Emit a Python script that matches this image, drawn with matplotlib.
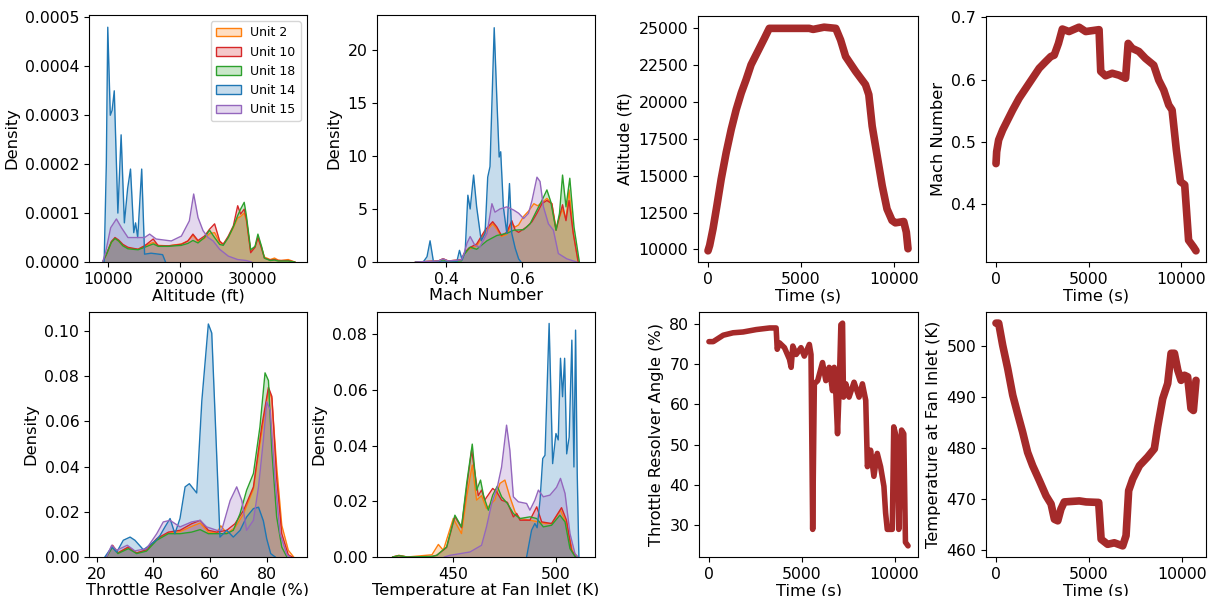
import numpy as np
import matplotlib
matplotlib.use("Agg")
import matplotlib.pyplot as plt
from matplotlib.patches import Patch
from matplotlib.ticker import FormatStrFormatter

plt.rcParams['font.family'] = ['DejaVu Sans']
plt.rcParams['font.size'] = 11
plt.rcParams['xtick.labelsize'] = 11.3
plt.rcParams['ytick.labelsize'] = 11.3
plt.rcParams['axes.labelsize'] = 11.7

#=============================================================================
# DATA : density curves (per unit)
#=============================================================================

units = ['Unit 2', 'Unit 10', 'Unit 18', 'Unit 14', 'Unit 15']
unit_colors = ['#ff7f0e', '#d62728', '#2ca02c', '#1f77b4', '#9467bd']

# --- Altitude (ft) ---
alt_x_main = [9300, 9800, 10500, 11000, 11500, 12100, 12800, 14200, 15100, 16300, 17000, 18400,
              20200, 21100, 21800, 22500, 23400, 24100, 24800, 25500, 26000, 26700, 27400, 28000,
              28400, 28900, 29200, 29800, 30400, 30800, 31300, 31700, 32500, 33100, 33600, 34000,
              35000, 35900]
alt_u2 = [0, 1.5, 4.0, 4.8, 4.3, 3.3, 2.8, 2.6, 3.3, 4.0, 3.4, 3.3, 3.7, 4.3, 5.5, 4.2, 4.8, 5.8,
          6.0, 4.0, 3.7, 5.0, 7.0, 9.0, 9.3, 10.0, 8.5, 2.2, 3.0, 5.0, 3.0, 1.0, 0.5, 0.8, 0.4, 0.3,
          0.5, 0]
alt_u10 = [0, 1.5, 4.2, 5.0, 4.5, 3.6, 3.0, 2.6, 3.3, 4.7, 3.3, 3.3, 3.6, 4.3, 5.7, 4.4, 5.3, 6.7,
           7.8, 4.3, 3.6, 5.3, 7.4, 11.5, 9.8, 10.8, 8.8, 1.9, 3.0, 5.0, 2.8, 0.8, 0.4, 0.5, 0.3,
           0.3, 0.3, 0]
alt_u18 = [0, 1.5, 4.0, 4.8, 4.3, 3.3, 2.7, 2.5, 3.0, 3.7, 3.2, 3.2, 3.4, 3.8, 4.4, 3.9, 5.0, 6.5,
           5.0, 3.6, 3.4, 5.0, 7.2, 9.5, 10.8, 12.2, 9.5, 2.5, 3.2, 5.7, 3.2, 0.8, 0.3, 0.4, 0.2,
           0.2, 0.2, 0]
alt_x_u14 = [9500, 9800, 10000, 10350, 10600, 10900, 11400, 11850, 12300, 12750, 13150, 13600,
             13850, 14150, 14700, 15100, 16000, 17600, 18000]
alt_u14 = [0, 20, 48, 30, 31, 35, 10, 26, 8, 15, 19, 6, 8, 5, 19, 1.6, 1.8, 1.5, 0]
alt_x_u15 = [9300, 9700, 10400, 11200, 11900, 12800, 15100, 15800, 16700, 18800, 20200, 21300,
             21900, 22500, 23200, 23900, 24600, 25500, 26700, 28000, 29200, 29900]
alt_u15 = [0, 2.0, 7.0, 8.8, 7.0, 5.0, 5.0, 5.7, 4.7, 4.3, 5.3, 8.4, 13.9, 9.1, 6.4, 5.0, 4.3,
           2.6, 1.2, 0.5, 0.3, 0]

# --- Mach Number ---
mach_x_u2 = [0.320, 0.380, 0.392, 0.405, 0.440, 0.447, 0.459, 0.480, 0.502, 0.522, 0.533, 0.545,
             0.559, 0.572, 0.581, 0.590, 0.603, 0.616, 0.630, 0.640, 0.651, 0.664, 0.677, 0.688,
             0.697, 0.705, 0.714, 0.722, 0.733, 0.746]
mach_u2 = [0, 0.1, 0.3, 0.1, 0.2, 0.7, 1.2, 1.5, 2.8, 3.6, 3.1, 2.4, 2.6, 3.6, 3.3, 3.5, 4.3, 4.8,
           5.5, 5.3, 5.6, 6.0, 5.5, 3.1, 4.2, 5.0, 4.0, 6.8, 2.8, 0]
mach_x_u10 = [0.320, 0.380, 0.392, 0.405, 0.440, 0.447, 0.459, 0.480, 0.502, 0.522, 0.533, 0.545,
              0.559, 0.572, 0.581, 0.590, 0.611, 0.625, 0.638, 0.651, 0.664, 0.677, 0.688, 0.697,
              0.705, 0.714, 0.722, 0.733, 0.746]
mach_u10 = [0, 0.1, 0.3, 0.1, 0.2, 0.8, 1.3, 1.7, 3.0, 3.8, 3.3, 2.5, 2.8, 3.9, 3.0, 2.8, 3.3,
            3.8, 4.6, 5.5, 5.8, 5.5, 3.0, 4.3, 5.4, 3.9, 5.8, 2.7, 0]
mach_x_u18 = [0.320, 0.380, 0.392, 0.405, 0.440, 0.447, 0.463, 0.480, 0.507, 0.533, 0.559, 0.577,
              0.603, 0.620, 0.638, 0.651, 0.664, 0.674, 0.688, 0.697, 0.705, 0.714, 0.724, 0.735,
              0.749]
mach_u18 = [0, 0.05, 0.2, 0.05, 0.1, 0.7, 1.4, 1.2, 2.0, 2.5, 2.7, 3.0, 3.05, 3.6, 4.9, 5.8, 6.8,
            5.7, 3.0, 4.6, 8.2, 5.2, 7.9, 3.3, 0]
mach_x_u14 = [0.340, 0.350, 0.358, 0.367, 0.428, 0.435, 0.442, 0.450, 0.457, 0.463, 0.472, 0.480,
              0.492, 0.502, 0.509, 0.515, 0.526, 0.533, 0.539, 0.543, 0.550, 0.559, 0.566, 0.572,
              0.581, 0.590, 0.596]
mach_u14 = [0, 0.5, 2.0, 0, 0, 1.1, 0.2, 1.0, 6.3, 5.0, 8.2, 5.2, 2.0, 2.7, 8.0, 9.0, 22.1, 15.3,
            9.9, 10.4, 5.2, 2.7, 7.4, 2.7, 1.3, 0.3, 0]
mach_x_u15 = [0.320, 0.380, 0.392, 0.405, 0.440, 0.447, 0.455, 0.463, 0.475, 0.488, 0.507, 0.520,
              0.528, 0.541, 0.559, 0.577, 0.590, 0.603, 0.616, 0.625, 0.638, 0.646, 0.655, 0.668,
              0.681, 0.694, 0.716, 0.742]
mach_u15 = [0, 0.1, 0.3, 0.1, 0.2, 0.8, 1.8, 2.4, 1.6, 1.4, 2.7, 5.5, 4.7, 5.0, 5.2, 4.9, 4.6,
            4.1, 4.6, 5.8, 8.0, 7.6, 5.2, 3.6, 3.0, 0.8, 0.3, 0]

# --- Throttle Resolver Angle (%) ---
tra_x_u2 = [23.5, 25.6, 27.5, 31.2, 34.1, 37.6, 41.2, 45.3, 49.4, 53.5, 56.5, 59.4, 62.4, 63.8,
            65.9, 68.8, 71.8, 75.3, 78.2, 80.6, 81.8, 83.5, 85.3, 87.6, 89.5]
tra_u2 = [0, 0.005, 0.0018, 0.0044, 0.0018, 0.003, 0.0078, 0.0105, 0.0112, 0.0135, 0.015, 0.011,
          0.0105, 0.0138, 0.0105, 0.013, 0.019, 0.030, 0.055, 0.074, 0.070, 0.040, 0.014, 0.003, 0]
tra_x_u10 = [23.5, 25.6, 27.5, 31.2, 34.1, 37.6, 41.2, 45.3, 49.4, 53.5, 56.5, 59.4, 62.4, 65.9,
             68.8, 71.8, 75.3, 78.2, 80.6, 81.8, 83.5, 85.3, 87.6, 89.0]
tra_u10 = [0, 0.0052, 0.0018, 0.0044, 0.0018, 0.0032, 0.0081, 0.011, 0.0118, 0.0147, 0.0162,
           0.0118, 0.011, 0.0118, 0.0147, 0.0206, 0.031, 0.0575, 0.075, 0.071, 0.035, 0.0103,
           0.001, 0]
tra_x_u18 = [23.5, 25.6, 27.5, 31.2, 34.1, 37.6, 41.2, 45.3, 49.4, 53.5, 56.5, 59.4, 62.4, 65.9,
             68.2, 70.6, 72.9, 75.3, 77.6, 79.4, 80.6, 81.8, 83.5, 85.3, 87.1]
tra_u18 = [0, 0.0044, 0.0015, 0.0037, 0.0015, 0.0026, 0.0074, 0.0103, 0.0103, 0.011, 0.0121,
           0.0103, 0.0103, 0.0103, 0.0118, 0.0192, 0.0295, 0.0369, 0.0575, 0.0814, 0.078, 0.047,
           0.0177, 0.0044, 0]
tra_x_u14 = [22.9, 25.3, 27.1, 29.4, 31.8, 33.5, 36.5, 39.4, 40.9, 42.4, 44.1, 45.9, 47.6, 49.4,
             51.2, 52.7, 55.3, 57.1, 59.4, 60.6, 61.8, 63.5, 65.9, 68.2, 70.6, 72.9, 75.3, 77.1,
             78.8, 80.0, 81.4, 83.0]
tra_u14 = [0, 0.0044, 0.0022, 0.0074, 0.0088, 0.0074, 0.0032, 0.0059, 0.0074, 0.0096, 0.0133,
           0.017, 0.0103, 0.017, 0.031, 0.0324, 0.0283, 0.069, 0.103, 0.099, 0.062, 0.0088,
           0.0118, 0.0088, 0.0118, 0.0177, 0.0214, 0.022, 0.016, 0.008, 0.0015, 0]
tra_x_u15 = [23.5, 25.3, 27.1, 30.8, 33.5, 37.6, 41.2, 43.5, 45.9, 49.4, 53.5, 56.5, 58.8, 62.4,
             64.1, 67.1, 69.4, 71.2, 72.9, 75.3, 77.1, 78.8, 80.0, 81.2, 82.9, 84.7, 87.1, 88.2]
tra_u15 = [0, 0.0052, 0.003, 0.0052, 0.0027, 0.0037, 0.0103, 0.0155, 0.0162, 0.0133, 0.0155,
           0.0162, 0.0133, 0.0118, 0.0118, 0.025, 0.031, 0.025, 0.0118, 0.0162, 0.031, 0.0516,
           0.0686, 0.065, 0.035, 0.0103, 0.001, 0]

# --- Temperature at Fan Inlet (K) ---
tfi_x_u2 = [421, 424, 428, 440, 443.1, 445.5, 450.3, 454.3, 456.8, 459.5, 461.6, 464.0, 466.4,
            470.4, 472.9, 475.3, 477.7, 480.2, 482.6, 487.4, 491.5, 494.7, 497.9, 502.2, 505.1,
            508.0, 510.7]
tfi_u2 = [0, 0.0006, 0, 0.0008, 0.0045, 0.0024, 0.0138, 0.0084, 0.0216, 0.033, 0.0204, 0.022,
          0.0174, 0.0204, 0.0264, 0.0276, 0.0216, 0.0162, 0.0138, 0.0132, 0.0126, 0.012, 0.012,
          0.0168, 0.012, 0.002, 0]
tfi_x_u10 = [421, 424, 428, 440, 442.3, 447.1, 451.1, 454.3, 456.8, 459.2, 462.4, 464.0, 465.6,
             469.4, 471.3, 473.7, 476.5, 479.4, 481.0, 482.6, 487.4, 490.7, 493.1, 497.9, 502.7,
             505.1, 507.5, 509.7]
tfi_u10 = [0, 0.0005, 0, 0.0002, 0.0006, 0.0034, 0.0145, 0.0105, 0.025, 0.0383, 0.022, 0.024,
           0.0205, 0.0246, 0.0234, 0.0204, 0.0196, 0.0144, 0.0156, 0.0132, 0.0132, 0.018, 0.0126,
           0.012, 0.0177, 0.0132, 0.0025, 0]
tfi_x_u18 = [421, 424, 428, 440, 442.3, 447.1, 451.1, 454.3, 456.8, 459.5, 461.6, 463.5, 465.1,
             467.3, 469.4, 471.6, 473.7, 476.5, 479.4, 482.6, 487.4, 490.7, 493.9, 497.9, 501.9,
             504.4, 506.8, 509.2, 510.0]
tfi_u18 = [0, 0.0005, 0, 0.0002, 0.0006, 0.0036, 0.015, 0.0108, 0.0264, 0.0405, 0.024, 0.0276,
           0.0216, 0.0168, 0.0222, 0.0254, 0.0216, 0.0192, 0.0156, 0.0138, 0.0144, 0.0138, 0.0108,
           0.0114, 0.015, 0.0126, 0.003, 0.0002, 0]
tfi_x_u14 = [485.8, 488.2, 489.8, 490.9, 492.3, 493.6, 494.7, 496.7, 498.4, 500.0, 501.1, 502.2,
             503.2, 504.2, 505.2, 506.4, 507.7, 508.7, 509.5, 510.3, 511.1]
tfi_u14 = [0, 0.0096, 0.012, 0.0105, 0.0204, 0.0353, 0.0365, 0.0838, 0.0335, 0.0443, 0.042,
           0.0713, 0.0575, 0.0713, 0.037, 0.043, 0.0778, 0.0323, 0.0814, 0.030, 0]
tfi_x_u15 = [446.0, 448.7, 453.6, 458.4, 464.0, 466.4, 468.9, 471.6, 473.7, 476.1, 477.7, 479.4,
             481.8, 485.8, 487.4, 489.8, 491.5, 493.9, 497.1, 500.3, 502.2, 504.4, 506.8, 509.2,
             510.5]
tfi_u15 = [0, 0.0006, 0.0012, 0.0018, 0.0042, 0.0108, 0.0192, 0.025, 0.0323, 0.0473, 0.0383,
           0.0216, 0.0198, 0.0192, 0.0168, 0.0204, 0.024, 0.0216, 0.0222, 0.025, 0.0282, 0.0228,
           0.0084, 0.0012, 0]

# =============================================================================
# DATA : flight profile of one unit versus time (s)
# =============================================================================

alt_t = [0, 90, 270, 480, 710, 980, 1250, 1520, 1790, 2050, 2320, 2680, 3040, 3300, 5450, 5660,
         6250, 6880, 7140, 7410, 7950, 8480, 8660, 8840, 9110, 9380, 9640, 9910, 10090, 10540,
         10680, 10770]
alt_v = [9900, 10270, 11390, 12970, 14770, 16570, 18140, 19490, 20610, 21510, 22530, 23430,
         24330, 25000, 25000, 24930, 25080, 25000, 24210, 23090, 22080, 21180, 20500, 18370,
         16340, 14320, 12740, 11960, 11800, 11890, 11170, 10040]

mach_t = [0, 36, 143, 360, 630, 900, 1250, 1610, 1970, 2330, 2690, 2960, 3140, 3370, 3580, 3940,
          4480, 4840, 5560, 5650, 5910, 6270, 6630, 6990, 7130, 7350, 7710, 8060, 8510, 8780,
          9050, 9320, 9500, 9730, 9950, 10180, 10390, 10660, 10790]
mach_v = [0.465, 0.484, 0.503, 0.519, 0.535, 0.551, 0.570, 0.586, 0.602, 0.618, 0.629, 0.637,
          0.639, 0.658, 0.681, 0.677, 0.684, 0.677, 0.680, 0.613, 0.606, 0.610, 0.607, 0.602,
          0.658, 0.650, 0.645, 0.634, 0.623, 0.599, 0.583, 0.559, 0.551, 0.487, 0.436, 0.431,
          0.342, 0.331, 0.325]

tra_t = [0, 230, 770, 1300, 1840, 2550, 3270, 3620, 3680, 3800, 4070, 4340, 4430, 4520, 4700,
         4960, 5140, 5410, 5500, 5590, 5680, 5860, 6120, 6300, 6480, 6660, 6750, 6840, 6930, 7020,
         7110, 7200, 7250, 7380, 7550, 7820, 8090, 8270, 8450, 8540, 8710, 8890, 9070, 9250, 9430,
         9520, 9610, 9880, 9960, 10140, 10230, 10380, 10500, 10590, 10730]
tra_v = [75.6, 75.6, 77.2, 77.8, 78.0, 78.6, 79.0, 79.0, 73.7, 75.3, 74.1, 71.2, 69.2, 74.5,
         72.4, 74.1, 72.0, 74.9, 72.4, 28.9, 65.1, 65.9, 70.4, 65.9, 69.2, 63.4, 69.2, 62.6, 52.7,
         64.2, 79.8, 80.2, 61.8, 65.1, 61.8, 65.5, 61.8, 65.1, 61.0, 44.5, 48.6, 42.1, 47.8, 44.5,
         39.6, 33.0, 28.9, 28.9, 54.4, 51.1, 28.9, 53.6, 52.7, 25.7, 24.8]

tfi_t = [0, 143, 358, 630, 900, 1160, 1430, 1700, 1970, 2330, 2690, 2960, 3140, 3320, 3490, 3670,
         4480, 4840, 5520, 5650, 6000, 6360, 6810, 6990, 7130, 7350, 7710, 8150, 8510, 8690, 8960,
         9230, 9410, 9590, 9770, 9950, 10130, 10300, 10480, 10610, 10750]
tfi_v = [504.4, 504.4, 500.1, 495.5, 490.3, 486.7, 483.1, 479.1, 476.5, 473.6, 470.6, 469.0,
         466.0, 465.7, 468.0, 469.4, 469.6, 469.4, 469.3, 462.1, 461.1, 461.4, 460.8, 462.8, 471.6,
         473.9, 476.5, 478.2, 479.8, 484.1, 489.6, 492.6, 498.5, 498.5, 495.2, 493.2, 494.2, 493.9,
         487.7, 487.3, 493.2]

#=============================================================================
# PLOT
#=============================================================================

fig = plt.figure(figsize=(12.09, 5.96), dpi=100)
W, H = 1209., 596.


def add_ax(left, top, right, bottom):
    return fig.add_axes([left / W, 1 - bottom / H, (right - left) / W, (bottom - top) / H])


ax1 = add_ax(89, 15, 307, 262)
ax2 = add_ax(377, 15, 595, 262)
ax3 = add_ax(698, 16, 918, 262)
ax4 = add_ax(986, 16, 1206, 262)
ax5 = add_ax(89, 312, 307, 557)
ax6 = add_ax(377, 312, 595, 557)
ax7 = add_ax(699, 312, 918, 557)
ax8 = add_ax(986, 312, 1206, 557)


def density(ax, curves):
    for (x, y), c in zip(curves, unit_colors):
        ax.fill_between(x, y, 0, color=c, alpha=0.25, lw=0)
        ax.plot(x, y, color=c, lw=1)
    ax.set_ylabel('Density')


density(ax1, [(alt_x_main, np.array(alt_u2) * 1e-5), (alt_x_main, np.array(alt_u10) * 1e-5),
              (alt_x_main, np.array(alt_u18) * 1e-5), (alt_x_u14, np.array(alt_u14) * 1e-5),
              (alt_x_u15, np.array(alt_u15) * 1e-5)])
ax1.set_xlim(7400, 37600)
ax1.set_ylim(0, 0.000505)
ax1.set_xticks([10000, 20000, 30000])
ax1.set_yticks([0, 0.0001, 0.0002, 0.0003, 0.0004, 0.0005])
ax1.yaxis.set_major_formatter(FormatStrFormatter('%.4f'))
ax1.set_xlabel('Altitude (ft)', labelpad=1)
handles = [Patch(facecolor=matplotlib.colors.to_rgba(c, 0.25), edgecolor=c, lw=1)
           for c in unit_colors]
ax1.legend(handles, units, loc='upper right', fontsize=9)

density(ax2, [(mach_x_u2, mach_u2), (mach_x_u10, mach_u10), (mach_x_u18, mach_u18),
              (mach_x_u14, mach_u14), (mach_x_u15, mach_u15)])
ax2.set_xlim(0.219, 0.790)
ax2.set_ylim(0, 23.3)
ax2.set_xticks([0.4, 0.6])
ax2.set_yticks([0, 5, 10, 15, 20])
ax2.set_xlabel('Mach Number', labelpad=1)

density(ax5, [(tra_x_u2, tra_u2), (tra_x_u10, tra_u10), (tra_x_u18, tra_u18),
              (tra_x_u14, tra_u14), (tra_x_u15, tra_u15)])
ax5.set_xlim(17.3, 94.2)
ax5.set_ylim(0, 0.1083)
ax5.set_xticks([20, 40, 60, 80])
ax5.set_yticks([0, 0.02, 0.04, 0.06, 0.08, 0.10])
ax5.yaxis.set_major_formatter(FormatStrFormatter('%.2f'))
ax5.set_xlabel('Throttle Resolver Angle (%)', labelpad=1)

density(ax6, [(tfi_x_u2, tfi_u2), (tfi_x_u10, tfi_u10), (tfi_x_u18, tfi_u18),
              (tfi_x_u14, tfi_u14), (tfi_x_u15, tfi_u15)])
ax6.set_xlim(413.4, 518.9)
ax6.set_ylim(0, 0.0879)
ax6.set_xticks([450, 500])
ax6.set_yticks([0, 0.02, 0.04, 0.06, 0.08])
ax6.yaxis.set_major_formatter(FormatStrFormatter('%.2f'))
ax6.set_xlabel('Temperature at Fan Inlet (K)', labelpad=1)


def profile(ax, t, v, ylabel, lw=5.5):
    ax.plot(t, v, '-', color='brown', lw=lw, solid_capstyle='round', solid_joinstyle='round')
    ax.set_xlabel('Time (s)', labelpad=1)
    ax.set_ylabel(ylabel)
    ax.set_xticks([0, 5000, 10000])


profile(ax3, alt_t, alt_v, 'Altitude (ft)')
ax3.set_yticks([10000, 12500, 15000, 17500, 20000, 22500, 25000])
profile(ax4, mach_t, mach_v, 'Mach Number')
ax4.set_yticks([0.4, 0.5, 0.6, 0.7])
profile(ax7, tra_t, tra_v, 'Throttle Resolver Angle (%)', lw=4)
ax7.set_yticks([30, 40, 50, 60, 70, 80])
profile(ax8, tfi_t, tfi_v, 'Temperature at Fan Inlet (K)')
ax8.set_yticks([460, 470, 480, 490, 500])

plt.savefig('out.png', dpi=100)
